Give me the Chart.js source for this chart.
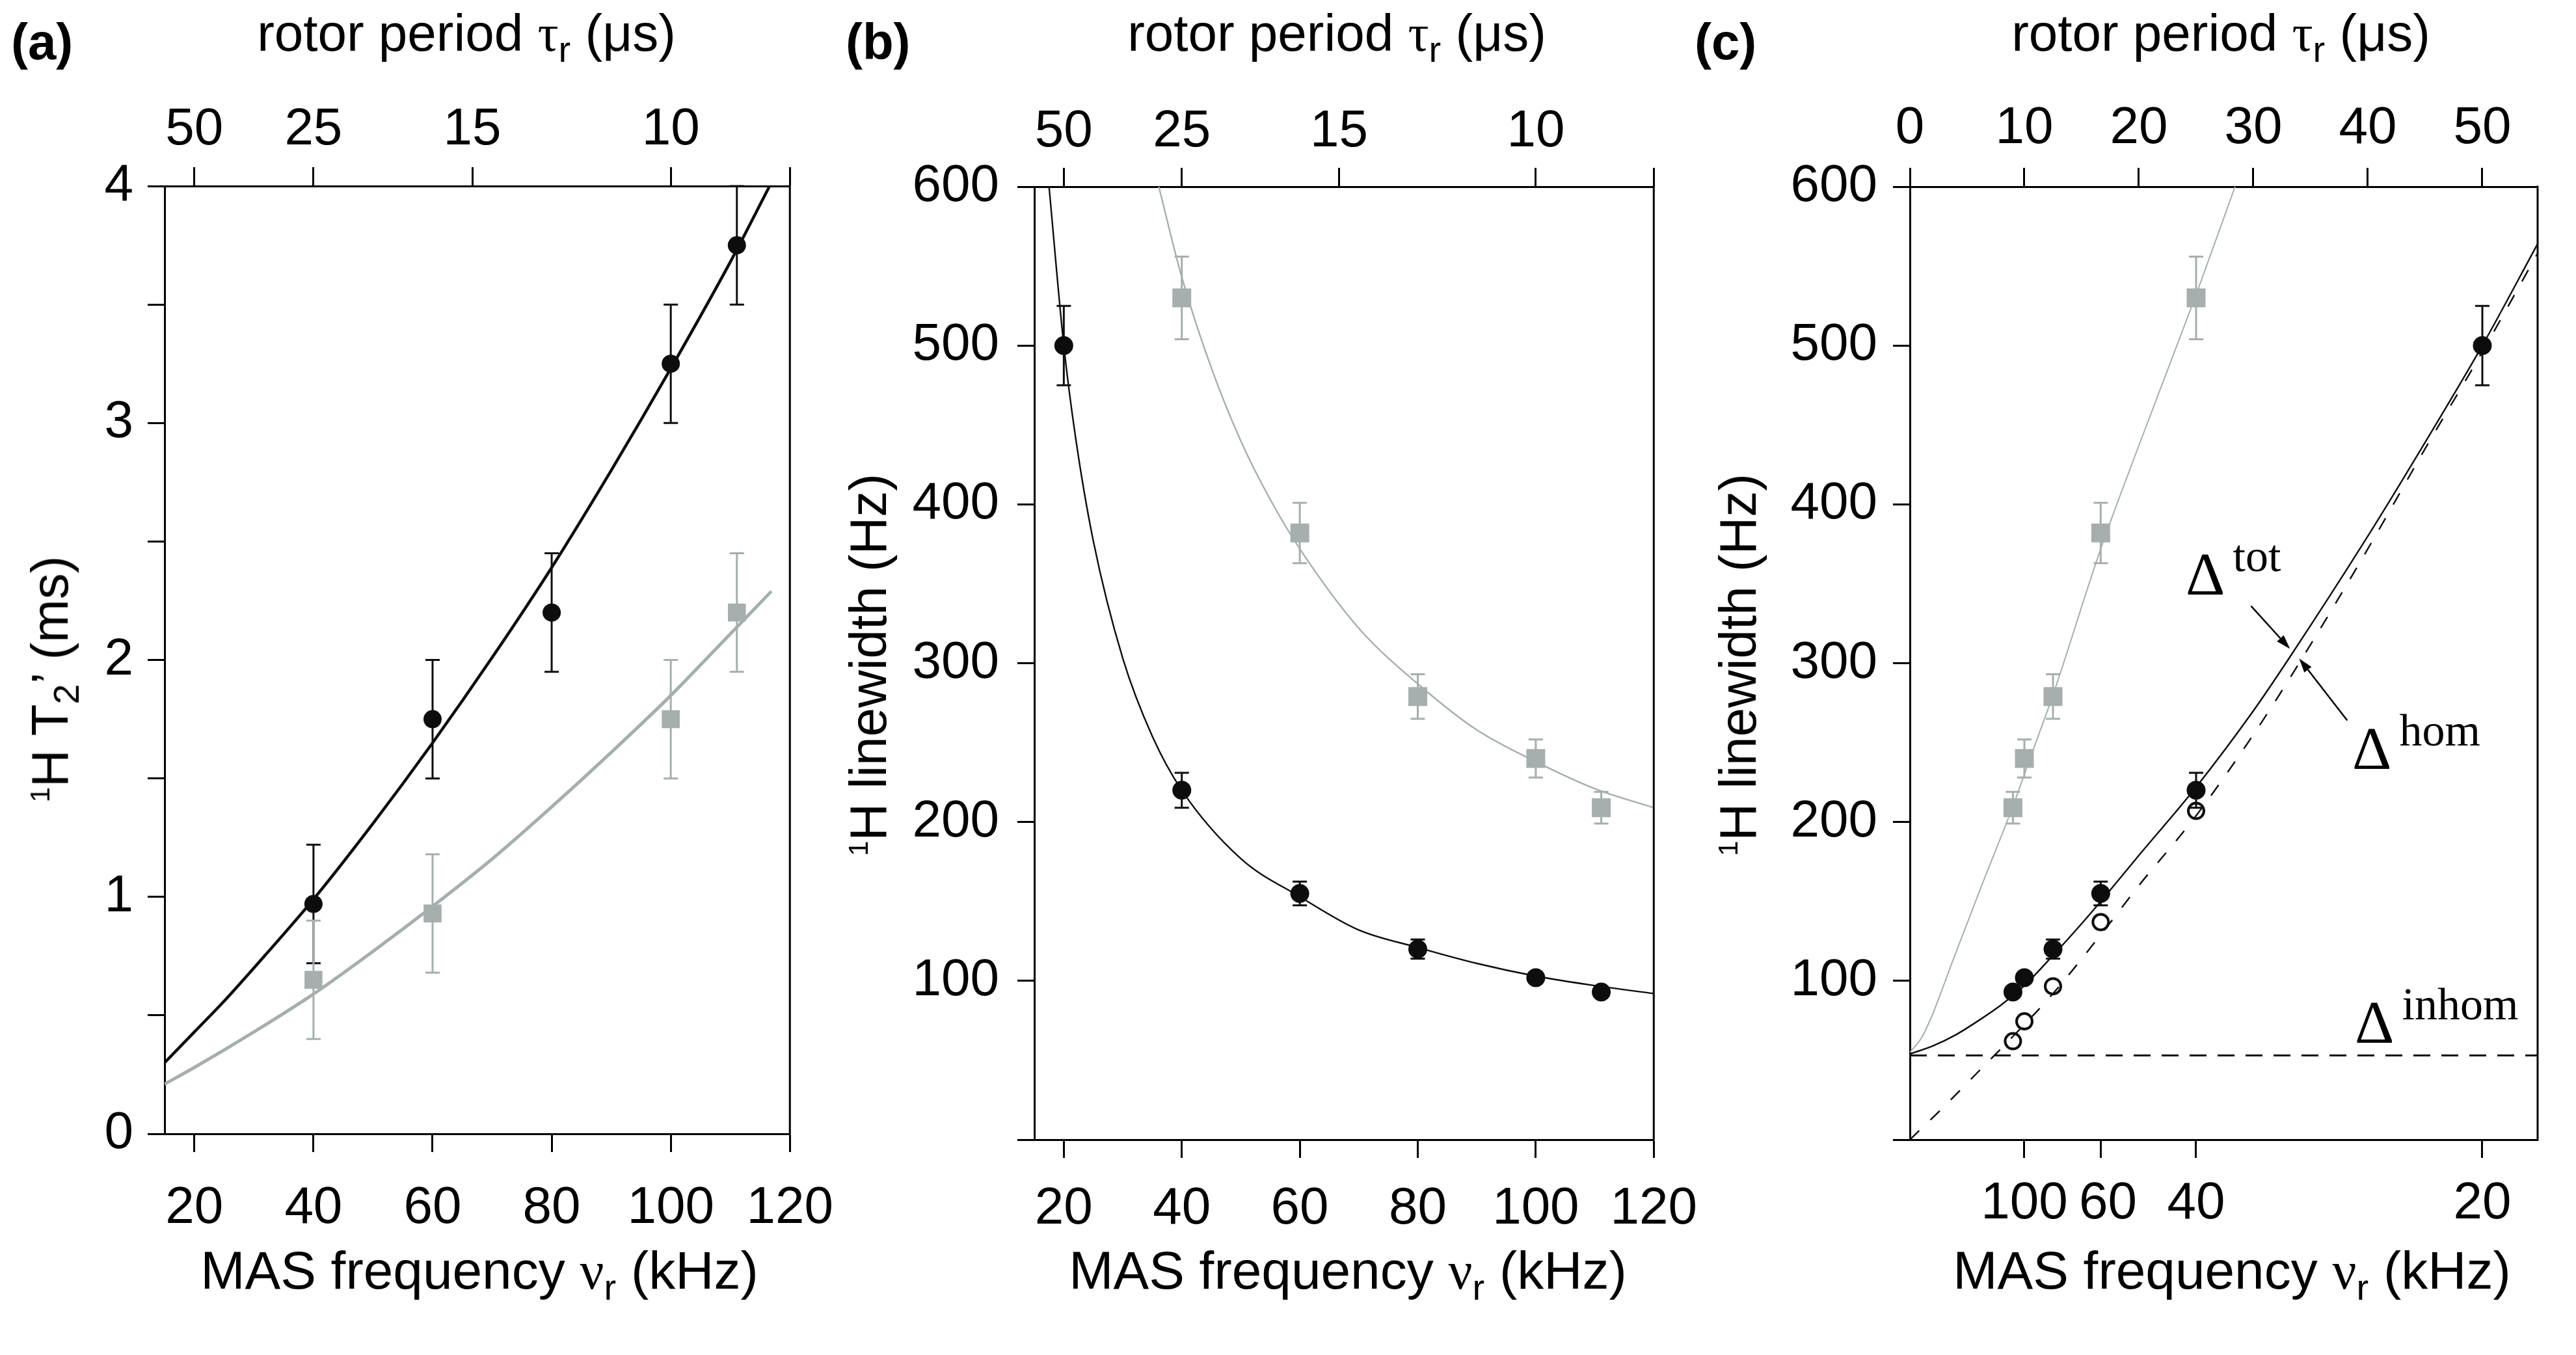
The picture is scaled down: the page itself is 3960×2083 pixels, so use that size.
<!DOCTYPE html>
<html>
<head>
<meta charset="utf-8">
<title>MAS dependence of 1H T2' and linewidth</title>
<script src="https://cdn.jsdelivr.net/npm/chart.js@4.4.1/dist/chart.umd.min.js"></script>
<style>
  html, body { margin: 0; padding: 0; background: #fff; }
  body { width: 3960px; height: 2083px; position: relative; overflow: hidden;
         font-family: 'Liberation Sans', Arial, sans-serif; color: #000; }
  canvas { position: absolute; top: 0; }
  .lbl { position: absolute; white-space: nowrap; }
  .panel { font-weight: bold; font-size: 78px; line-height: 78px; }
  .ttl { font-size: 80px; line-height: 80px; transform: translateX(-50%); }
  .xt { font-size: 82px; line-height: 82px; transform: translateX(-50%); }
  .yt { font-size: 80px; line-height: 80px; transform: translate(-50%, -50%) rotate(-90deg); }
  .g { font-family: 'Liberation Serif', serif; line-height: 0; }
  .sb { font-size: 56px; line-height: 0; vertical-align: -17px; }
  .sp { font-size: 42px; line-height: 0; vertical-align: 28px; }
  .anno { font-family: 'Liberation Serif', serif; font-size: 94px; line-height: 94px; }
  .anno span { font-size: 70px; line-height: 0; vertical-align: 36px; margin-left: 12px; }
</style>
</head>
<body>
<canvas id="chartA" width="1320" height="2083" style="left:0px"></canvas>
<canvas id="chartB" width="1320" height="2083" style="left:1320px"></canvas>
<canvas id="chartC" width="1320" height="2083" style="left:2640px"></canvas>

<div class="lbl panel" style="left:17px;top:25px">(a)</div>
<div class="lbl panel" style="left:1300px;top:25px">(b)</div>
<div class="lbl panel" style="left:2605px;top:25px">(c)</div>

<div class="lbl ttl" style="left:717px;top:11px">rotor period <span class="g">τ</span><span class="sb">r</span> (μs)</div>
<div class="lbl ttl" style="left:2055px;top:11px">rotor period <span class="g">τ</span><span class="sb">r</span> (μs)</div>
<div class="lbl ttl" style="left:3414px;top:11px">rotor period <span class="g">τ</span><span class="sb">r</span> (μs)</div>

<div class="lbl xt" style="left:737px;top:1912px">MAS frequency <span class="g">ν</span><span class="sb">r</span> (kHz)</div>
<div class="lbl xt" style="left:2072px;top:1912px">MAS frequency <span class="g">ν</span><span class="sb">r</span> (kHz)</div>
<div class="lbl xt" style="left:3431px;top:1912px">MAS frequency <span class="g">ν</span><span class="sb">r</span> (kHz)</div>

<div class="lbl yt" style="left:77px;top:1044px"><span class="sp">1</span>H T<span class="sb">2</span>’ (ms)</div>
<div class="lbl yt" style="left:1335px;top:1022px"><span class="sp">1</span>H linewidth (Hz)</div>
<div class="lbl yt" style="left:2672px;top:1022px"><span class="sp">1</span>H linewidth (Hz)</div>

<div class="lbl anno" style="left:3360px;top:835px">Δ<span>tot</span></div>
<div class="lbl anno" style="left:3616px;top:1103px">Δ<span>hom</span></div>
<div class="lbl anno" style="left:3620px;top:1524px">Δ<span>inhom</span></div>

<script>
// ---- (a) 1H T2' (ms) against MAS frequency (kHz)
const freqA = [40, 60, 80, 100, 111.1];
const t2Black = [0.97, 1.75, 2.2, 3.25, 3.75];
const t2BlackErr = [0.25, 0.25, 0.25, 0.25, 0.25];
const freqAGray = [40, 60, 100, 111.1];
const t2Gray = [0.65, 0.93, 1.75, 2.2];
const t2GrayErr = [0.25, 0.25, 0.25, 0.25];
// fit curves
const fitAFreq = [15, 20, 25, 30, 40, 50, 60, 70, 80, 90, 100, 110, 116.6];
const fitABlack = [0.30, 0.43, 0.56, 0.70, 0.99, 1.31, 1.65, 2.01, 2.39, 2.80, 3.23, 3.68, 4.0];
const fitAGrayFreq = [15, 20, 30, 40, 50, 60, 70, 80, 90, 100, 110, 116.9];
const fitAGray = [0.21, 0.28, 0.43, 0.59, 0.77, 0.96, 1.16, 1.38, 1.61, 1.85, 2.11, 2.29];

// ---- (b) linewidth (Hz) against MAS frequency (kHz)
const freqB = [20, 40, 60, 80, 100, 111.1];
const lwBlack = [500, 220, 155, 120, 102, 93];
const lwBlackErr = [25, 11, 7.5, 6, 3, 3];
const freqBGray = [40, 60, 80, 100, 111.1];
const lwGray = [530, 382, 279, 240, 209];
const lwGrayErr = [26, 19, 14, 12, 10];
const fitBFreq = [17.5, 20, 22, 25, 30, 35, 40, 50, 60, 70, 80, 90, 100, 110, 120];
const fitBBlack = [600, 500, 442, 377, 303, 254, 220, 177, 153, 132, 121, 111, 103, 97, 92];
const fitBGrayFreq = [36.1, 40, 45, 50, 55, 60, 70, 80, 90, 100, 110, 120];
const fitBGray = [600, 543, 486, 440, 403, 372, 322, 287, 258, 238, 221, 209];

// ---- (c) same linewidths against rotor period (us)
const freqHom = [111.1, 100, 80, 60, 40];
const lwHom = [62, 74.5, 96.6, 137, 207];
const fitCTau = [0, 2, 4, 6, 8, 10, 12.5, 15, 16.67, 20, 25, 30, 33.2, 40, 45, 50, 54.83];
const fitCTot = [54, 59, 66, 75, 85, 97, 116, 136, 150, 179, 222, 270, 304, 380, 439, 500, 564];
const fitCHomTau = [0, 3, 6, 9, 12.5, 16.67, 20, 25, 30, 34, 40, 45, 50, 54.83];
const fitCHom = [0, 21, 43, 65, 92, 129, 160, 204, 255, 300, 372, 435, 496, 558];
const fitCGrayTau = [0, 1, 1.87, 3.71, 6, 9, 10, 11.1, 12.5, 16.67, 20, 25, 28.4];
const fitCGray = [55, 64, 77, 112, 155, 210, 230, 252, 280, 372, 437, 532, 600];
const inhomTau = [0, 54.83];
const inhomLevel = [53, 53];

// ---- tick labels
const freqTicks = [20, 40, 60, 80, 100, 120];
const periodTicksAB = [50, 25, 15, 10];
const t2Ticks = [0, 0.5, 1, 1.5, 2, 2.5, 3, 3.5, 4];
const lwTicks = [0, 100, 200, 300, 400, 500, 600];
const periodTicksC = [0, 10, 20, 30, 40, 50];
const freqTicksC = [100, 60, 40, 20];
const freqTextC = ['100', ' 60', '40', '20'];

// annotation arrows in panel (c), in axis units (us, Hz)
const arrowsC = [
  { from: [29.8, 336], to: [33.2, 309] },
  { from: [38.2, 264], to: [34.0, 303] }
];

const INK = '#0d0d0d';
const GRAY = '#a6aeae';
const TICK_FONT = { family: "'Liberation Sans', Arial, sans-serif", size: 80 };

function pts(xs, ys) {
  return xs.map((x, i) => ({ x: x, y: ys[i] }));
}

function xAxis(position, min, max, vals, text, size, tickLen, pad) {
  return {
    type: 'linear', axis: 'x', position: position, min: min, max: max,
    afterBuildTicks: s => { s.ticks = vals.map(v => ({ value: v })); },
    afterFit: s => { s.height = size; },
    ticks: { autoSkip: false, maxRotation: 0, minRotation: 0, padding: pad, color: '#000',
             font: TICK_FONT, callback: (v, i) => text[i] },
    grid: { drawOnChartArea: false, drawTicks: true, tickLength: tickLen, tickWidth: 3, tickColor: '#000' },
    border: { display: true, color: '#000', width: 3 }
  };
}

function yAxis(min, max, vals, text, size, pad) {
  return {
    type: 'linear', axis: 'y', position: 'left', min: min, max: max,
    afterBuildTicks: s => { s.ticks = vals.map(v => ({ value: v })); },
    afterFit: s => { s.width = size; },
    ticks: { autoSkip: false, padding: pad, color: '#000', font: TICK_FONT,
             callback: (v, i) => text[i] },
    grid: { drawOnChartArea: false, drawTicks: true, tickLength: 26, tickWidth: 3, tickColor: '#000' },
    border: { display: true, color: '#000', width: 3 }
  };
}

function markers(data, style, radius, color, errors, errWidth) {
  return {
    data: data, showLine: false, pointStyle: style, pointRadius: radius,
    pointBackgroundColor: color, pointBorderWidth: 0, errors: errors,
    errColor: color, errWidth: errWidth, clip: false
  };
}

function curve(data, color, width, dash) {
  return {
    data: data, showLine: true, pointRadius: 0, borderColor: color, borderWidth: width,
    borderDash: dash || [], cubicInterpolationMode: 'monotone', fill: false
  };
}

// vertical error bars with caps
const errorBars = {
  id: 'errorBars',
  beforeDatasetsDraw(chart) {
    const ctx = chart.ctx;
    const xs = chart.scales.x, ys = chart.scales.y;
    chart.data.datasets.forEach(ds => {
      if (!ds.errors) return;
      ctx.save();
      ctx.strokeStyle = ds.errColor;
      ctx.lineWidth = ds.errWidth;
      ds.data.forEach((p, j) => {
        const x = xs.getPixelForValue(p.x);
        const lo = ys.getPixelForValue(p.y - ds.errors[j]);
        const hi = ys.getPixelForValue(p.y + ds.errors[j]);
        ctx.beginPath();
        ctx.moveTo(x, lo); ctx.lineTo(x, hi);
        ctx.moveTo(x - 11, lo); ctx.lineTo(x + 11, lo);
        ctx.moveTo(x - 11, hi); ctx.lineTo(x + 11, hi);
        ctx.stroke();
      });
      ctx.restore();
    });
  }
};

// right side of the box
const frame = {
  id: 'frame',
  afterDraw(chart) {
    const a = chart.chartArea, ctx = chart.ctx;
    ctx.save();
    ctx.strokeStyle = '#000';
    ctx.lineWidth = 3;
    ctx.beginPath();
    ctx.moveTo(a.right, a.top - 1.5);
    ctx.lineTo(a.right, a.bottom + 1.5);
    ctx.stroke();
    ctx.restore();
  }
};

const arrows = {
  id: 'arrows',
  afterDatasetsDraw(chart) {
    const ctx = chart.ctx, xs = chart.scales.x, ys = chart.scales.y;
    ctx.save();
    ctx.strokeStyle = '#000';
    ctx.fillStyle = '#000';
    ctx.lineWidth = 2.5;
    arrowsC.forEach(a => {
      const x0 = xs.getPixelForValue(a.from[0]), y0 = ys.getPixelForValue(a.from[1]);
      const x1 = xs.getPixelForValue(a.to[0]), y1 = ys.getPixelForValue(a.to[1]);
      const ang = Math.atan2(y1 - y0, x1 - x0);
      const len = 22, half = 7;
      const bx = x1 - len * Math.cos(ang), by = y1 - len * Math.sin(ang);
      ctx.beginPath();
      ctx.moveTo(x0, y0); ctx.lineTo(bx, by);
      ctx.stroke();
      ctx.beginPath();
      ctx.moveTo(x1, y1);
      ctx.lineTo(bx + half * Math.sin(ang), by - half * Math.cos(ang));
      ctx.lineTo(bx - half * Math.sin(ang), by + half * Math.cos(ang));
      ctx.closePath();
      ctx.fill();
    });
    ctx.restore();
  }
};

function baseOptions(padRight, scales) {
  return {
    responsive: false, animation: false, devicePixelRatio: 1, events: [],
    layout: { padding: { left: 0, top: 0, bottom: 0, right: padRight } },
    plugins: { legend: { display: false }, tooltip: { enabled: false } },
    scales: scales
  };
}

const periodPosAB = periodTicksAB.map(t => 1000 / t).concat([120]);
const periodTextAB = periodTicksAB.map(String).concat(['']);
const lwText = lwTicks.map(v => (v === 0 ? '' : String(v)));

// (a)
new Chart(document.getElementById('chartA'), {
  type: 'scatter',
  data: { datasets: [
    markers(pts(freqA, t2Black), 'circle', 14, INK, t2BlackErr, 3),
    markers(pts(freqAGray, t2Gray), 'rect', 19.5, GRAY, t2GrayErr, 3),
    curve(pts(fitAFreq, fitABlack), INK, 4.5),
    curve(pts(fitAGrayFreq, fitAGray), GRAY, 5)
  ]},
  options: baseOptions(102, {
    x: xAxis('bottom', 15, 120, freqTicks, freqTicks.map(String), 340, 28, 39),
    xTop: xAxis('top', 15, 120, periodPosAB, periodTextAB, 286, 29, 9),
    y: yAxis(0, 4, t2Ticks, t2Ticks.map(v => (v % 1 === 0 ? String(v) : '')), 253, 22)
  }),
  plugins: [errorBars, frame]
});

// (b)
new Chart(document.getElementById('chartB'), {
  type: 'scatter',
  data: { datasets: [
    markers(pts(freqB, lwBlack), 'circle', 14.5, INK, lwBlackErr, 3),
    markers(pts(freqBGray, lwGray), 'rect', 20.5, GRAY, lwGrayErr, 3),
    curve(pts(fitBFreq, fitBBlack), INK, 2.4),
    curve(pts(fitBGrayFreq, fitBGray), GRAY, 2.4)
  ]},
  options: baseOptions(84, {
    x: xAxis('bottom', 15, 120, freqTicks, freqTicks.map(String), 331, 28, 31),
    xTop: xAxis('top', 15, 120, periodPosAB, periodTextAB, 287, 29, 7),
    y: yAxis(0, 600, lwTicks, lwText, 270, 28)
  }),
  plugins: [errorBars, frame]
});

// (c)
const tauOf = f => 1000 / f;
const openHom = markers(pts(freqHom.map(tauOf), lwHom), 'circle', 12, 'rgba(0,0,0,0)');
openHom.pointBorderWidth = 4;
openHom.pointBorderColor = INK;
new Chart(document.getElementById('chartC'), {
  type: 'scatter',
  data: { datasets: [
    openHom,
    markers(pts(freqB.map(tauOf), lwBlack), 'circle', 14.5, INK, lwBlackErr, 3),
    markers(pts(freqBGray.map(tauOf), lwGray), 'rect', 20.5, GRAY, lwGrayErr, 3),
    curve(pts(fitCTau, fitCTot), INK, 2.4),
    curve(pts(fitCHomTau, fitCHom), INK, 2.4, [20, 24]),
    curve(pts(inhomTau, inhomLevel), INK, 3, [26, 17]),
    curve(pts(fitCGrayTau, fitCGray), GRAY, 2)
  ]},
  options: baseOptions(59, {
    x: xAxis('bottom', 0, 54.83, freqTicksC.map(tauOf), freqTextC, 331, 28, 23),
    xTop: xAxis('top', 0, 54.83, periodTicksC, periodTicksC.map(String), 287, 29, 12),
    y: yAxis(0, 600, lwTicks, lwText, 296, 24)
  }),
  plugins: [errorBars, frame, arrows]
});
</script>
</body>
</html>
